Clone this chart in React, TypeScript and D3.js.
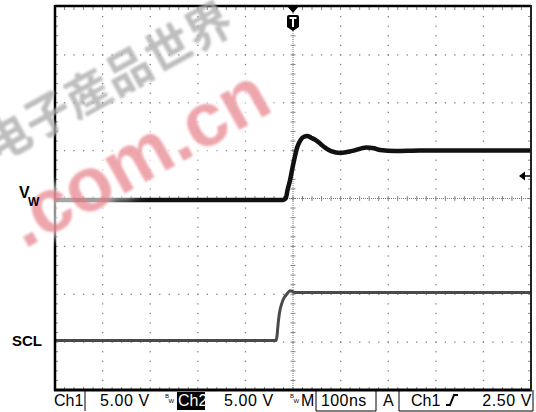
import React from "react";
import * as d3 from "d3";

// ---- data ----
// Ch1 (VW) trace: time (ns) vs volts
const ch1Time = [-500, -20, -15, -11.5, -6, -2, 3, 9, 16, 23, 30, 38, 47, 58, 68, 80, 100, 125, 154, 170, 183, 215, 267, 350, 500];
const ch1Volt = [0, 0, 0.2, 1.04, 2.1, 3.13, 4.3, 5.53, 6.27, 6.6, 6.68, 6.5, 6.27, 5.85, 5.43, 5.1, 4.91, 5.12, 5.48, 5.4, 5.22, 5.12, 5.17, 5.17, 5.17];
// Ch2 (SCL) trace
const ch2Time = [-500, -35.7, -33.5, -31.5, -29.5, -27.3, -24, -21, -17, -12.6, -6.3, 0, 4.2, 20, 500];
const ch2Volt = [0, 0, 0.5, 1.62, 2.5, 3.19, 3.8, 4.23, 4.6, 4.86, 5.2, 5.1, 5.01, 5.0, 5.0];

const timeDomain = [-500, 500]; // 100 ns/div, 10 divisions
const divDomain = [-4, 4]; // 8 vertical divisions
const voltsPerDiv = [5, 5];
const groundDiv = [-0.03, -2.966];
const triggerLevel = 2.5;

const statusTexts = ["Ch1", "5.00 V", "Ch2", "5.00 V", "M", "100ns", "A", "Ch1", "2.50 V"];
const labelVW = ["V", "W"];
const labelSCL = "SCL";
const watermarkCN = "电子産品世界";
const watermarkDot = ".com.cn";

const X0 = 55, X1 = 531, Y0 = 7, Y1 = 390;

export default function App() {
  const x = d3.scaleLinear().domain(timeDomain).range([X0, X1]);
  const y = d3.scaleLinear().domain(divDomain).range([Y1, Y0]);
  const toY = (ch: number, v: number) => y(groundDiv[ch] + v / voltsPerDiv[ch]);

  const line1 = d3.line<number>()
    .x((_, i) => x(ch1Time[i]))
    .y((_, i) => toY(0, ch1Volt[i]))
    .curve(d3.curveMonotoneX);
  const line2 = d3.line<number>()
    .x((_, i) => x(ch2Time[i]))
    .y((_, i) => toY(1, ch2Volt[i]))
    .curve(d3.curveMonotoneX);

  const divW = (X1 - X0) / 10;
  const divH = (Y1 - Y0) / 8;
  const cx = x(0);
  const cy = y(0);

  const grid: JSX.Element[] = [];
  for (let i = 1; i < 10; i++) {
    if (i === 5) continue;
    const gx = X0 + i * divW;
    for (let k = 1; k < 40; k++) {
      const gy = Y0 + (k * divH) / 5;
      grid.push(<rect key={`v${i}-${k}`} x={gx - 0.6} y={gy - 0.6} width={1.3} height={1.3} fill="#808080" />);
    }
  }
  for (let j = 1; j < 8; j++) {
    if (j === 4) continue;
    const gy = Y0 + j * divH;
    for (let k = 1; k < 50; k++) {
      const gx = X0 + (k * divW) / 5;
      grid.push(<rect key={`h${j}-${k}`} x={gx - 0.6} y={gy - 0.6} width={1.3} height={1.3} fill="#808080" />);
    }
  }
  for (let k = 1; k < 50; k++) {
    const gx = X0 + (k * divW) / 5;
    grid.push(<line key={`ct${k}`} x1={gx} x2={gx} y1={cy - 2.5} y2={cy + 2.5} stroke="#888" strokeWidth={1} />);
    grid.push(<line key={`bt${k}`} x1={gx} x2={gx} y1={Y0} y2={Y0 + 3} stroke="#888" strokeWidth={1} />);
    grid.push(<line key={`bb${k}`} x1={gx} x2={gx} y1={Y1 - 3} y2={Y1} stroke="#888" strokeWidth={1} />);
  }
  for (let k = 1; k < 40; k++) {
    const gy = Y0 + (k * divH) / 5;
    grid.push(<line key={`cv${k}`} x1={cx - 2.5} x2={cx + 2.5} y1={gy} y2={gy} stroke="#888" strokeWidth={1} />);
    grid.push(<line key={`bl${k}`} x1={X0} x2={X0 + 3} y1={gy} y2={gy} stroke="#888" strokeWidth={1} />);
    grid.push(<line key={`br${k}`} x1={X1 - 3} x2={X1} y1={gy} y2={gy} stroke="#888" strokeWidth={1} />);
  }

  const trigY = toY(0, triggerLevel);
  const font = "'Liberation Sans', Arial, sans-serif";
  const sb = 406;

  return (
    <svg width={536} height={412} style={{ position: "absolute", left: 0, top: 0, background: "#fff" }}>
      <defs>
        <filter id="blur" x="-20%" y="-20%" width="140%" height="140%">
          <feGaussianBlur stdDeviation="1.2" />
        </filter>
        <filter id="blur2" x="-20%" y="-20%" width="140%" height="140%">
          <feGaussianBlur stdDeviation="5" />
        </filter>
      </defs>
      <rect x={0} y={0} width={536} height={412} fill="#fff" />
      {grid}
      <line x1={cx} x2={cx} y1={Y0} y2={Y1} stroke="#777" strokeWidth={1} strokeDasharray="1 1" />
      <line x1={X0} x2={X1} y1={cy} y2={cy} stroke="#777" strokeWidth={1} strokeDasharray="1 1" />

      {/* traces */}
      <path d={line2(ch2Time) || ""} fill="none" stroke="#4a4a4a" strokeWidth={3} />
      <path d={line1(ch1Time) || ""} fill="none" stroke="#111" strokeWidth={4.5} strokeLinejoin="round" />

      {/* frame */}
      <line x1={X0} x2={X1} y1={Y0 - 1} y2={Y0 - 1} stroke="#000" strokeWidth={2.5} />
      <line x1={X0} x2={X0} y1={Y0 - 2} y2={Y1 + 1} stroke="#000" strokeWidth={2.5} />
      <line x1={X0 - 1} x2={X1 + 1} y1={Y1} y2={Y1} stroke="#000" strokeWidth={3} />
      <line x1={X1} x2={X1} y1={Y0 - 2} y2={Y1 + 1} stroke="#222" strokeWidth={2} />

      {/* trigger marker */}
      <path d={`M${cx - 6},${Y0 - 1} L${cx + 6},${Y0 - 1} L${cx},${Y0 + 6} Z`} fill="#000" />
      <path d={`M${cx - 6},${Y0 + 10} Q${cx - 6},${Y0 + 8} ${cx - 4},${Y0 + 8} L${cx + 4},${Y0 + 8} Q${cx + 6},${Y0 + 8} ${cx + 6},${Y0 + 10} L${cx + 6},${Y0 + 20} L${cx},${Y0 + 24} L${cx - 6},${Y0 + 20} Z`} fill="#000" />
      <path d={`M${cx - 3.5},${Y0 + 11} L${cx + 3.5},${Y0 + 11} M${cx},${Y0 + 11} L${cx},${Y0 + 20}`} stroke="#fff" strokeWidth={2} />

      {/* trigger level arrow */}
      <path d={`M${X1 - 8},${trigY} L${X1 - 1},${trigY}`} stroke="#000" strokeWidth={1.5} />
      <path d={`M${X1 - 12},${trigY} L${X1 - 6},${trigY - 4.5} L${X1 - 6},${trigY + 4.5} Z`} fill="#000" />

      {/* watermark */}
      <g transform="translate(137,157) rotate(-29)" opacity={0.9}>
        <text x={0} y={26} textAnchor="middle" fontFamily={font} fontWeight="bold" fontSize={76} fill="none" stroke="#fff" strokeWidth={14} opacity={0.7} filter="url(#blur2)">{watermarkDot}</text>
        <text x={0} y={26} textAnchor="middle" fontFamily={font} fontWeight="bold" fontSize={76} fill="#ea8c95" opacity={0.85} filter="url(#blur)">{watermarkDot}</text>
      </g>
      <g transform="translate(108,82) rotate(-29)">
        <text x={0} y={16} textAnchor="middle" fontFamily="'Noto Sans CJK SC', sans-serif" fontWeight="bold" fontSize={46} fill="#adadad" opacity={0.8} filter="url(#blur)">{watermarkCN}</text>
      </g>

      {/* labels */}
      <text x={19} y={198} fontFamily={font} fontWeight="bold" fontSize={16} fill="#000">{labelVW[0]}</text>
      <text x={28} y={206} fontFamily={font} fontWeight="bold" fontSize={12} fill="#000">{labelVW[1]}</text>
      <text x={12} y={346} fontFamily={font} fontWeight="bold" fontSize={15} fill="#000">{labelSCL}</text>

      {/* status bar */}
      <g fontFamily={font} fontSize={16} fill="#000">
        <text x={54} y={sb}>{statusTexts[0]}</text>
        <line x1={85} x2={85} y1={Y1} y2={411} stroke="#000" strokeWidth={1} />
        <text x={100} y={sb} letterSpacing={0.6}>{statusTexts[1]}</text>
        <text x={165} y={398} fontSize={6}>B</text>
        <text x={168.5} y={403} fontSize={6}>W</text>
        <rect x={177} y={392} width={28} height={18} fill="#000" />
        <text x={178} y={sb} fill="#fff">{statusTexts[2]}</text>
        <text x={224} y={sb} letterSpacing={0.6}>{statusTexts[3]}</text>
        <text x={290} y={398} fontSize={6}>B</text>
        <text x={293.5} y={403} fontSize={6}>W</text>
        <text x={301} y={sb}>{statusTexts[4]}</text>
        <line x1={316} x2={316} y1={Y1} y2={411} stroke="#000" strokeWidth={1} />
        <line x1={376} x2={376} y1={Y1} y2={411} stroke="#000" strokeWidth={1} />
        <line x1={316} x2={376} y1={411} y2={411} stroke="#000" strokeWidth={1} />
        <text x={321} y={sb} letterSpacing={0.4}>{statusTexts[5]}</text>
        <text x={383} y={sb}>{statusTexts[6]}</text>
        <line x1={399} x2={399} y1={Y1} y2={411} stroke="#000" strokeWidth={1} />
        <line x1={533} x2={533} y1={Y1} y2={411} stroke="#000" strokeWidth={1} />
        <line x1={399} x2={533} y1={411} y2={411} stroke="#000" strokeWidth={1} />
        <text x={411} y={sb}>{statusTexts[7]}</text>
        <path d="M446,405 L450,405 L454,395 L458,395" fill="none" stroke="#000" strokeWidth={2} />
        <text x={532} y={sb} textAnchor="end" letterSpacing={0.6}>{statusTexts[8]}</text>
      </g>
    </svg>
  );
}
